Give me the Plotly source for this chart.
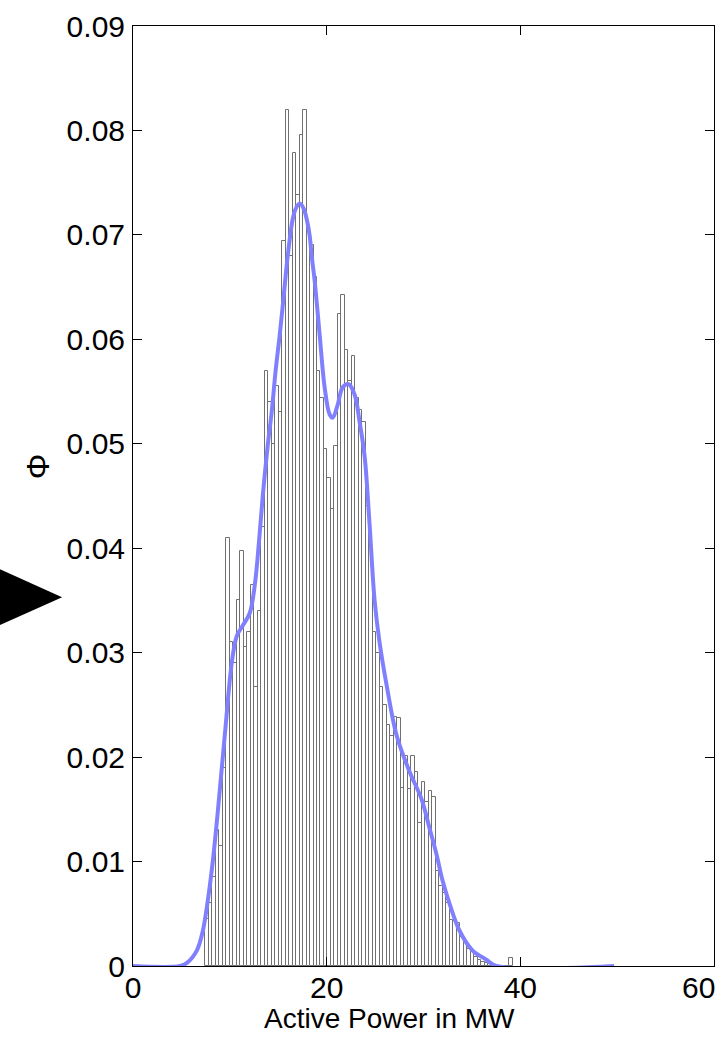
import plotly.graph_objects as go

# Histogram of active power (density-normalised bin heights)
bin_first_center = 7.63   # MW, centre of the first bin
bin_width = 0.361         # MW
bin_heights = [
    0.0045, 0.0060, 0.0085, 0.0130, 0.0115, 0.0190, 0.0410, 0.0310, 0.0290, 0.0350,
    0.0397, 0.0305, 0.0320, 0.0365, 0.0267, 0.0340, 0.0420, 0.0570, 0.0540, 0.0500,
    0.0555, 0.0530, 0.0694, 0.0820, 0.0680, 0.0778, 0.0738, 0.0796, 0.0820, 0.0705,
    0.0690, 0.0660, 0.0570, 0.0544, 0.0495, 0.0467, 0.0438, 0.0498, 0.0624, 0.0642,
    0.0590, 0.0560, 0.0584, 0.0544, 0.0532, 0.0521, 0.0440, 0.0400, 0.0320, 0.0300,
    0.0267, 0.0250, 0.0231, 0.0220, 0.0238, 0.0237, 0.0170, 0.0201, 0.0169, 0.0201,
    0.0186, 0.0137, 0.0176, 0.0157, 0.0168, 0.0162, 0.0091, 0.0077, 0.0070, 0.0060,
    0.0044, 0.0043, 0.0041, 0.0028, 0.0022, 0.0016, 0.0013, 0.0009, 0.0006, 0.0004,
    0.0003, 0.0002, 0.0, 0.0, 0.0, 0.0, 0.0, 0.0008,
]
bin_centers = [bin_first_center + i * bin_width for i in range(len(bin_heights))]

# Kernel density estimate
kde_x = [0.0, 4.85, 5.57, 6.60, 7.22, 7.73, 8.25, 8.76, 9.48, 10.21, 10.72, 11.34,
         12.06, 12.58, 13.00, 13.40, 13.92, 14.33, 14.74, 15.15, 15.57, 15.98, 16.49,
         16.80, 17.22, 17.63, 17.94, 18.25, 18.45, 18.76, 19.28, 19.79, 20.31, 20.62,
         21.13, 21.65, 22.27, 22.89, 23.40, 23.92, 24.43, 24.95, 25.46, 26.19, 27.22,
         28.56, 29.79, 30.62, 31.34, 31.96, 32.68, 33.71, 35.05, 36.49, 37.53, 49.69]
kde_y = [0.0, 0.0, 0.0003, 0.0015, 0.0034, 0.0063, 0.0101, 0.0148, 0.0221, 0.0291,
         0.0316, 0.0326, 0.0338, 0.0365, 0.0405, 0.0450, 0.0499, 0.0531, 0.0571, 0.0604,
         0.0642, 0.0680, 0.0715, 0.0725, 0.0730, 0.0725, 0.0715, 0.0699, 0.0680, 0.0656,
         0.0604, 0.0554, 0.0528, 0.0525, 0.0537, 0.0554, 0.0557, 0.0547, 0.0521, 0.0488,
         0.0423, 0.0350, 0.0310, 0.0269, 0.0221, 0.0186, 0.0160, 0.0132, 0.0107, 0.0082,
         0.0060, 0.0034, 0.0015, 0.0006, 0.0, 0.0]

x_ticks = [0, 20, 40, 60]
x_tick_text = ["0", "20", "40", "60"]
y_ticks = [0, 0.01, 0.02, 0.03, 0.04, 0.05, 0.06, 0.07, 0.08, 0.09]
y_tick_text = ["0", "0.01", "0.02", "0.03", "0.04", "0.05", "0.06", "0.07", "0.08", "0.09"]

FONT = "Liberation Sans, Arial, sans-serif"
TICK_SIZE = 30

fig = go.Figure()
fig.add_trace(go.Bar(
    x=bin_centers, y=bin_heights, width=bin_width,
    marker=dict(color="white", line=dict(color="#707070", width=1)),
    showlegend=False,
))
fig.add_trace(go.Scatter(
    x=kde_x, y=kde_y, mode="lines", line=dict(color="#8080ff", width=4, shape="spline"),
    showlegend=False,
))

axis_common = dict(
    showline=True, linecolor="black", linewidth=1, mirror="ticks",
    ticks="inside", ticklen=9, tickcolor="black", showgrid=False, zeroline=False,
    tickfont=dict(family=FONT, size=TICK_SIZE, color="black"),
)
# the last x label is placed as an annotation so it stays inside the page
fig.update_xaxes(range=[0, 60], tickvals=x_ticks, ticktext=x_tick_text[:-1] + [""],
                 ticklabelstandoff=-5, **axis_common)
fig.update_yaxes(range=[0, 0.09], tickvals=y_ticks, ticktext=y_tick_text,
                 ticklabelstandoff=1, **axis_common)

fig.update_layout(
    width=724, height=1039,
    margin=dict(l=133, r=9, t=18, b=73),
    paper_bgcolor="white", plot_bgcolor="white",
    bargap=0,
    annotations=[
        dict(text=x_tick_text[-1], xref="x", yref="paper", x=x_ticks[-1], y=-0.003,
             xshift=-16, xanchor="center", yanchor="top", showarrow=False,
             font=dict(family=FONT, size=TICK_SIZE, color="black")),
        dict(text="Active Power in MW", xref="paper", yref="paper", x=0.4416, y=-0.0559,
             xanchor="center", yanchor="middle", showarrow=False,
             font=dict(family=FONT, size=28, color="black")),
        dict(text="Φ", xref="paper", yref="paper", x=-0.163, y=0.532,
             xanchor="center", yanchor="middle", showarrow=False, textangle=-90,
             font=dict(family=FONT, size=32, color="black")),
    ],
    shapes=[dict(
        type="path", xref="paper", yref="paper",
        path="M -0.24 0.4251 L -0.122 0.3924 L -0.24 0.3597 Z",
        fillcolor="black", line=dict(width=0),
    )],
)

fig.write_html("out.html")
